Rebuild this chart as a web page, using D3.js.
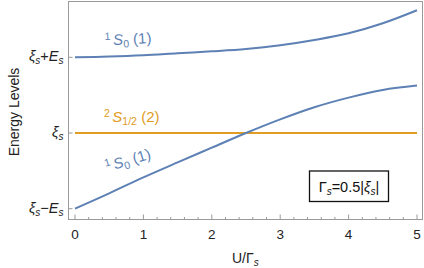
<!DOCTYPE html>
<html>
<head>
<meta charset="utf-8">
<script src="https://cdn.jsdelivr.net/npm/d3@7"></script>
<style>
  body { margin: 0; background: #fff; }
  text { font-family: "Liberation Sans", Arial, sans-serif; }
</style>
</head>
<body>
<div id="chart"></div>
<script>
const WIDTH = 424;
const HEIGHT = 268;

// values (energies in units of E_s, relative to xi_s)
const uVals   = [0, 0.5, 1, 1.5, 2, 2.5, 3, 3.5, 4, 4.5, 5];
const upperE  = [1.0, 1.009, 1.026, 1.053, 1.079, 1.11, 1.159, 1.229, 1.317, 1.449, 1.621];
const lowerE  = [-1.0, -0.797, -0.586, -0.388, -0.194, 0.0, 0.18, 0.34, 0.467, 0.568, 0.626];
const doubletU = [0, 5];
const doubletE = [0, 0];

const xTicks = [0, 1, 2, 3, 4, 5];
const yTicks = [-1, 0, 1];

const BLUE = '#5e81b5';
const ORANGE = '#e19c24';
const FRAME = '#9a9a9a';

const svg = d3.select('#chart')
  .append('svg')
    .attr('width', WIDTH)
    .attr('height', HEIGHT);

const x = d3.scaleLinear().domain([0, 5]).range([75, 417]);
const y = d3.scaleLinear().domain([-1, 1]).range([208.7, 57.3]);

const FR = { LEFT: 68.5, RIGHT: 422.5, TOP: 1.5, BOTTOM: 219.5 };

// frame
svg.append('rect')
  .attr('x', FR.LEFT).attr('y', FR.TOP)
  .attr('width', FR.RIGHT - FR.LEFT).attr('height', FR.BOTTOM - FR.TOP)
  .attr('fill', 'none')
  .attr('stroke', FRAME)
  .attr('stroke-width', 1);

// x ticks (inward, with minors)
const minor = d3.range(0, 5.001, 0.2);
svg.append('g').selectAll('line')
  .data(minor)
  .enter()
  .append('line')
    .attr('x1', d => x(d)).attr('x2', d => x(d))
    .attr('y1', FR.BOTTOM)
    .attr('y2', d => Math.abs(d - Math.round(d)) < 1e-6 ? FR.BOTTOM - 5 : FR.BOTTOM - 2.5)
    .attr('stroke', FRAME);

svg.append('g').selectAll('text')
  .data(xTicks)
  .enter()
  .append('text')
    .attr('x', d => x(d))
    .attr('y', 238.5)
    .attr('text-anchor', 'middle')
    .style('font-size', '13.5px')
    .style('fill', '#222')
    .text(d => d);

// y ticks
svg.append('g').selectAll('line')
  .data(yTicks)
  .enter()
  .append('line')
    .attr('x1', FR.LEFT).attr('x2', FR.LEFT + 4)
    .attr('y1', d => y(d)).attr('y2', d => y(d))
    .attr('stroke', FRAME);

const yLab = svg.append('g')
  .style('font-size', '14.5px')
  .style('fill', '#222');

function xiLabel(g, yy, sign) {
  const t = g.append('text')
    .attr('x', 63.5)
    .attr('y', yy)
    .attr('text-anchor', 'end');
  t.append('tspan').style('font-style', 'italic').text('ξ');
  t.append('tspan').style('font-style', 'italic').style('font-size', '10px').attr('dy', 3).text('s');
  if (sign) {
    t.append('tspan').attr('dy', -3).text(sign);
    t.append('tspan').style('font-style', 'italic').text('E');
    t.append('tspan').style('font-style', 'italic').style('font-size', '10px').attr('dy', 3).text('s');
  }
}
xiLabel(yLab, y(1) + 4, '+');
xiLabel(yLab, y(0) + 4, null);
xiLabel(yLab, y(-1) + 4, '−');

// axis titles
svg.append('text')
  .attr('transform', 'translate(18.5, 112) rotate(-90)')
  .attr('text-anchor', 'middle')
  .style('font-size', '14px')
  .style('fill', '#222')
  .text('Energy Levels');

const xt = svg.append('text')
  .attr('x', 232)
  .attr('y', 263)
  .style('font-size', '14px')
  .style('fill', '#222');
xt.append('tspan').text('U/Γ');
xt.append('tspan').style('font-style', 'italic').style('font-size', '10px').attr('dy', 3).text('s');

// lines
const line = d3.line()
  .x(d => x(d[0]))
  .y(d => y(d[1]))
  .curve(d3.curveCatmullRom);

svg.append('path')
  .datum(doubletU.map((u, i) => [u, doubletE[i]]))
  .attr('d', line)
  .attr('fill', 'none')
  .attr('stroke', ORANGE)
  .attr('stroke-width', 2);

[upperE, lowerE].forEach(series => {
  svg.append('path')
    .datum(uVals.map((u, i) => [u, series[i]]))
    .attr('d', line)
    .attr('fill', 'none')
    .attr('stroke', BLUE)
    .attr('stroke-width', 2);
});

// curve labels
function stateLabel(tx, ty, rot, color, sup, sub, num) {
  const t = svg.append('text')
    .attr('transform', `translate(${tx}, ${ty}) rotate(${rot})`)
    .style('font-size', '15px')
    .style('fill', color);
  t.append('tspan').style('font-size', '10.5px').attr('dy', -5.5).text(sup);
  t.append('tspan').attr('dy', 5.5).attr('dx', 2.5).style('font-style', 'italic').text('S');
  t.append('tspan').style('font-size', '10.5px').attr('dy', 3).text(sub);
  t.append('tspan').attr('dy', -3).text(' (' + num + ')');
}
stateLabel(105, 45.5, -3, BLUE, '1', '0', 1);
stateLabel(104, 122, 0, ORANGE, '2', '1/2', 2);
stateLabel(107, 172, -17, BLUE, '1', '0', 1);

// parameter box
svg.append('rect')
  .attr('x', 309.5).attr('y', 171)
  .attr('width', 79).attr('height', 30.5)
  .attr('fill', '#fff')
  .attr('stroke', '#111')
  .attr('stroke-width', 1.3);

const bt = svg.append('text')
  .attr('x', 349)
  .attr('y', 191.5)
  .attr('text-anchor', 'middle')
  .style('font-size', '14.5px')
  .style('fill', '#111');
bt.append('tspan').text('Γ');
bt.append('tspan').style('font-style', 'italic').style('font-size', '10px').attr('dy', 3).text('s');
bt.append('tspan').attr('dy', -3).text('=0.5|');
bt.append('tspan').style('font-style', 'italic').text('ξ');
bt.append('tspan').style('font-style', 'italic').style('font-size', '10px').attr('dy', 3).text('s');
bt.append('tspan').attr('dy', -3).text('|');
</script>
</body>
</html>
